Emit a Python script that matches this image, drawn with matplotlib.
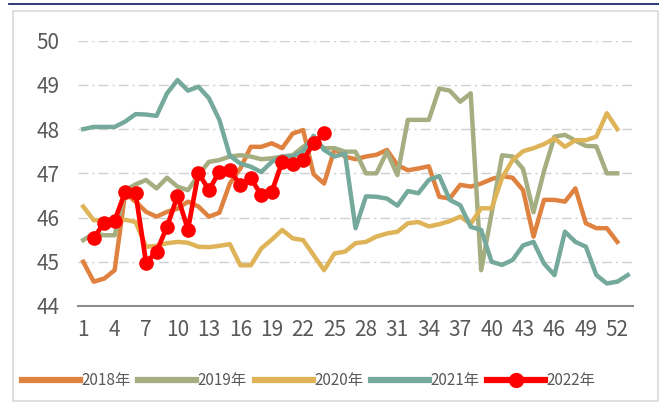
import numpy as np
import matplotlib
matplotlib.use("Agg")
import matplotlib.pyplot as plt
from matplotlib.lines import Line2D
from matplotlib.patches import Rectangle

plt.rcParams['font.family'] = ['Liberation Sans Narrow', 'Noto Sans CJK SC', 'DejaVu Sans']

weeks = list(range(1, 54))
xticks = list(range(1, 53, 3))

y2018 = [45.0, 44.55, 44.62, 44.81, 46.55, 46.36, 46.13, 46.02, 46.13, 46.2,
         46.36, 46.25, 46.02, 46.11, 46.77, 47.11, 47.6, 47.6, 47.68, 47.57,
         47.9, 47.98, 46.98, 46.77, 47.55, 47.38, 47.32, 47.38, 47.42, 47.53,
         47.19, 47.07, 47.11, 47.16, 46.47, 46.43, 46.74, 46.7, 46.77, 46.87,
         46.94, 46.9, 46.62, 45.57, 46.4, 46.4, 46.36, 46.66, 45.87, 45.76,
         45.76, 45.45]
y2019 = [45.49, 45.64, 45.6, 45.6, 46.62, 46.75, 46.85, 46.66, 46.9, 46.7,
         46.62, 46.96, 47.26, 47.3, 47.38, 47.41, 47.38, 47.32, 47.34, 47.38,
         47.41, 47.6, 47.75, 47.57, 47.57, 47.49, 47.49, 47.0, 47.0, 47.49,
         46.96, 48.21, 48.21, 48.21, 48.92, 48.87, 48.62, 48.81, 44.81, 46.1,
         47.41, 47.38, 47.1, 46.12, 47.05, 47.83, 47.87, 47.74, 47.62, 47.61,
         47.0, 47.0]
y2020 = [46.25, 45.94, 45.95, 45.95, 45.95, 45.9, 45.34, 45.36, 45.42, 45.45,
         45.43, 45.34, 45.33, 45.36, 45.4, 44.92, 44.92, 45.3, 45.5, 45.72,
         45.53, 45.49, 45.15, 44.81, 45.19, 45.23, 45.42, 45.45, 45.57, 45.64,
         45.68, 45.87, 45.9, 45.8, 45.85, 45.92, 46.02, 45.86, 46.21, 46.21,
         46.9, 47.3, 47.5, 47.57, 47.66, 47.79, 47.6, 47.75, 47.75, 47.83,
         48.36, 48.0]
y2021 = [48.0, 48.05, 48.05, 48.05, 48.17, 48.34, 48.33, 48.3, 48.81, 49.11,
         48.87, 48.96, 48.7, 48.21, 47.4, 47.22, 47.15, 47.03, 47.26, 47.38,
         47.38, 47.5, 47.85, 47.53, 47.38, 47.45, 45.76, 46.48, 46.47, 46.43,
         46.27, 46.6, 46.55, 46.85, 46.94, 46.4, 46.28, 45.79, 45.72, 45.0,
         44.93, 45.04, 45.37, 45.45, 44.96, 44.7, 45.68, 45.45, 45.34, 44.7,
         44.51, 44.55, 44.7]
weeks2022 = list(range(2, 25))
y2022 = [45.54, 45.88, 45.93, 46.58, 46.55, 44.98, 45.23, 45.79, 46.49, 45.73,
         47.01, 46.62, 47.04, 47.07, 46.74, 46.89, 46.51, 46.58, 47.26, 47.21,
         47.3, 47.68, 47.92]

labels = ['2018年', '2019年', '2020年', '2021年', '2022年']
colors = ['#E0823F', '#A4AE80', '#DFB357', '#75A99C', '#FF0000']

W, H = 659, 403
fig = plt.figure(figsize=(W / 100, H / 100), dpi=100)
ax = fig.add_axes([78 / W, 1 - 306 / H, (633 - 78) / W, (306 - 40.7) / H])

lw = 3.2
ax.plot(weeks[:len(y2018)], y2018, color=colors[0], lw=lw, solid_joinstyle='round', zorder=3)
ax.plot(weeks[:len(y2019)], y2019, color=colors[1], lw=lw, solid_joinstyle='round', zorder=3)
ax.plot(weeks[:len(y2020)], y2020, color=colors[2], lw=lw, solid_joinstyle='round', zorder=3)
ax.plot(weeks[:len(y2021)], y2021, color=colors[3], lw=lw, solid_joinstyle='round', zorder=3)
ax.plot(weeks2022, y2022, color=colors[4], lw=3.4, marker='o', markersize=9.5,
        solid_joinstyle='round', zorder=4)

ax.set_xlim(0.5, 53.5)
ax.set_ylim(44, 50)
ax.set_yticks([44, 45, 46, 47, 48, 49, 50])
ax.set_xticks(xticks)
ax.set_xticklabels([str(t) for t in xticks])
for s in ['top', 'right', 'left']:
    ax.spines[s].set_visible(False)
ax.spines['bottom'].set_color('#8C8C8C')
ax.spines['bottom'].set_linewidth(1.5)
ax.tick_params(axis='both', length=0, labelsize=15, labelcolor='#595959')
ax.tick_params(axis='y', pad=13)
ax.tick_params(axis='x', pad=9)
for v in [45, 46, 47, 48, 49, 50]:
    ax.axhline(v, color='#D0D0D0', lw=1.0, dashes=(7, 3, 1.5, 3), zorder=1)

# outer frame and top rule
fig.patches.append(Rectangle((13 / W, 1 - 401 / H), (W - 14) / W, (401 - 11) / H,
                             transform=fig.transFigure, fill=False,
                             edgecolor='#D9D9D9', lw=1.2))
fig.lines.append(Line2D([9 / W, 1], [1 - 3.5 / H, 1 - 3.5 / H], transform=fig.transFigure,
                        color='#1F2A6E', lw=1.3))

handles = [Line2D([], [], color=colors[i], lw=4.5) for i in range(4)]
handles.append(Line2D([], [], color=colors[4], lw=4.5, marker='o', markersize=10))
fig.legend(handles, labels, loc='center left', bbox_to_anchor=(8 / W, 1 - 381 / H),
           ncol=5, frameon=False, handlelength=3.8, handletextpad=0.1,
           columnspacing=0.5, prop={'family': ['Noto Sans CJK SC'], 'size': 11},
           labelcolor='#595959')

fig.savefig('out.png', dpi=100)
